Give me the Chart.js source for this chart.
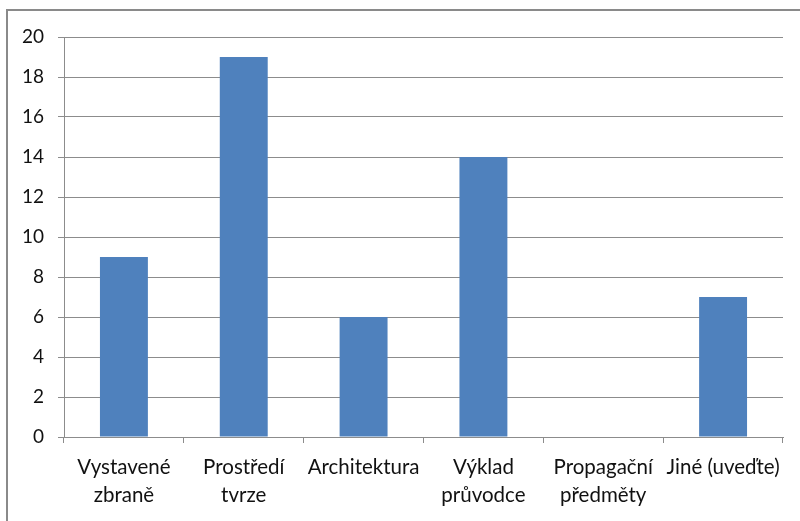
<!DOCTYPE html>
<html>
<head>
<meta charset="utf-8">
<script src="https://cdn.jsdelivr.net/npm/chart.js@4/dist/chart.umd.min.js"></script>
<style>
  html, body { margin: 0; padding: 0; background: #fff; }
  #wrap { position: relative; width: 800px; height: 521px; overflow: hidden; }
  #frame { position: absolute; left: 6px; top: 9px; width: 900px; height: 600px;
           border: 2px solid #8a8a8a; box-sizing: border-box; }
  canvas { position: absolute; left: 0; top: 0; }
</style>
</head>
<body>
<div id="wrap">
  <div id="frame"></div>
  <canvas id="barChart" width="800" height="521"></canvas>
</div>
<script>
// Chart data
const categories = [
  ["Vystavené", "zbraně"],
  ["Prostředí", "tvrze"],
  "Architektura",
  ["Výklad", "průvodce"],
  ["Propagační", "předměty"],
  "Jiné (uveďte)"
];
const values = [9, 19, 6, 14, 0, 7];
const yMin = 0;
const yMax = 20;
const yStep = 2;

const axisGray = "#8c8c8c";
const fontFamily = "Lato, 'Open Sans', sans-serif";

const ctx = document.getElementById("barChart").getContext("2d");
new Chart(ctx, {
  type: "bar",
  data: {
    labels: categories,
    datasets: [{
      data: values,
      backgroundColor: "#4f81bd",
      barPercentage: 0.4,
      categoryPercentage: 1.0,
    }],
  },
  options: {
    responsive: false,
    animation: false,
    layout: { padding: { top: 37, right: 17, left: 0, bottom: 0 } },
    plugins: {
      legend: { display: false },
      tooltip: { enabled: false },
    },
    scales: {
      x: {
        offset: true,
        grid: {
          offset: true,
          drawOnChartArea: false,
          color: axisGray,
          tickLength: 6,
        },
        border: { color: axisGray },
        ticks: {
          color: "#111",
          font: { family: fontFamily, size: 20.5, lineHeight: 1.38 },
          padding: 10,
          maxRotation: 0,
          autoSkip: false,
        },
        afterFit: (scale) => { scale.height = 84; },
      },
      y: {
        min: yMin,
        max: yMax,
        ticks: {
          stepSize: yStep,
          color: "#111",
          font: { family: fontFamily, size: 19 },
          padding: 14,
        },
        grid: { color: axisGray, tickLength: 6 },
        border: { color: axisGray },
        afterFit: (scale) => { scale.width = 64; },
      },
    },
  },
});
</script>
</body>
</html>
